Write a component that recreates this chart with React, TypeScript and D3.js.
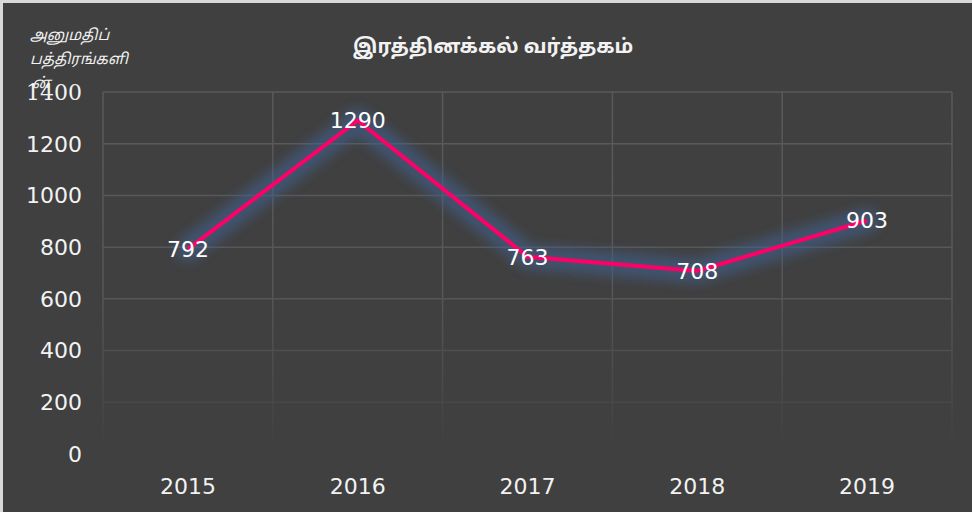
import React from "react";
import * as d3 from "d3";

const years = ["2015", "2016", "2017", "2018", "2019"];
const values = [792, 1290, 763, 708, 903];
const yTicks = [0, 200, 400, 600, 800, 1000, 1200, 1400];
const title = "இரத்தினக்கல் வர்த்தகம்";
const yTitleLines = ["அனுமதிப்", "பத்திரங்களி", "ன்"];

export default function App() {
  const W = 972, H = 512;
  const x = d3.scaleBand<string>().domain(years).range([103, 952]);
  const y = d3.scaleLinear().domain([0, 1400]).range([454, 92]);
  const line = d3
    .line<number>()
    .x((_, i) => (x(years[i]) as number) + x.bandwidth() / 2)
    .y((d) => y(d));
  const path = line(values) || "";
  const sans = "'DejaVu Sans', Verdana, sans-serif";
  return (
    <div style={{ position: "fixed", left: 0, top: 0, width: W, height: H }}>
      <svg width={W} height={H} style={{ display: "block" }}>
        <defs>
          <filter id="glow" x="-20%" y="-60%" width="140%" height="220%">
            <feGaussianBlur stdDeviation="6" />
          </filter>
          <linearGradient id="gfade" gradientUnits="userSpaceOnUse" x1="0" y1={92} x2="0" y2={450}>
            <stop offset="0" stopColor="#fff" stopOpacity={1} />
            <stop offset="0.55" stopColor="#fff" stopOpacity={0.9} />
            <stop offset="0.85" stopColor="#fff" stopOpacity={0.35} />
            <stop offset="1" stopColor="#fff" stopOpacity={0} />
          </linearGradient>
          <mask id="gmask" maskUnits="userSpaceOnUse" x="0" y="0" width={W} height={H}>
            <rect x={0} y={0} width={W} height={H} fill="url(#gfade)" />
          </mask>
        </defs>
        <rect x={0} y={0} width={W} height={H} fill="#d9d9d9" />
        <rect x={3} y={3} width={W - 3} height={H - 3} fill="#404040" />
        <g mask="url(#gmask)" stroke="#5a5a5a" strokeWidth={1.5}>
          {yTicks.map((t) => (
            <line key={"h" + t} x1={103} x2={952} y1={y(t)} y2={y(t)} />
          ))}
          {[...years.map((yr) => x(yr) as number), 952].map((vx, i) => (
            <line key={"v" + i} x1={vx} x2={vx} y1={92} y2={452} />
          ))}
        </g>
        <path d={path} fill="none" stroke="#3f5f90" strokeOpacity={0.6} strokeWidth={24}
          strokeLinejoin="round" strokeLinecap="round" filter="url(#glow)" />
        <path d={path} fill="none" stroke="#ff0066" strokeWidth={4} strokeLinejoin="miter" />
        {yTicks.map((t) => (
          <text key={"yl" + t} x={82} y={y(t)} dy="0.36em" textAnchor="end" fill="#f2f2f2"
            fontSize={22} fontFamily={t === 1400 ? "'DejaVu Serif', serif" : sans}>
            {t}
          </text>
        ))}
        {years.map((yr) => (
          <text key={"xl" + yr} x={(x(yr) as number) + x.bandwidth() / 2} y={494} textAnchor="middle"
            fill="#f2f2f2" fontSize={22} fontFamily={sans}>
            {yr}
          </text>
        ))}
        {values.map((v, i) => (
          <text key={"dl" + i} x={(x(years[i]) as number) + x.bandwidth() / 2} y={y(v)} dy="0.36em"
            textAnchor="middle" fill="#ffffff" fontSize={22} fontFamily={sans}>
            {v}
          </text>
        ))}
        <text x={493} y={53} textAnchor="middle" fill="#f2f2f2" fontSize={20} fontWeight="bold"
          fontFamily="'Noto Sans Tamil', 'Noto Sans', sans-serif">
          {title}
        </text>
        {yTitleLines.map((l, i) => (
          <text key={"yt" + i} x={i === 2 ? 32 : 30} y={40 + i * 24} fill="#f2f2f2" fontSize={15}
            fontStyle="italic" fontFamily="'Noto Sans Tamil', 'Noto Sans', sans-serif">
            {l}
          </text>
        ))}
      </svg>
    </div>
  );
}
